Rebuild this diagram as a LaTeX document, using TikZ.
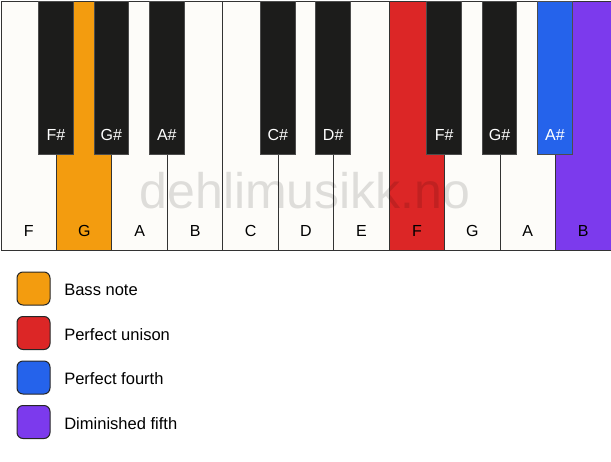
\documentclass[tikz,border=0pt]{standalone}
\usepackage{fontspec}
\setmainfont{Liberation Sans}

\definecolor{keywhite}{HTML}{FDFCF9}
\definecolor{keyblack}{HTML}{1C1C1B}
\definecolor{bassorange}{HTML}{F39C0F}
\definecolor{unisonred}{HTML}{DC2626}
\definecolor{fourthblue}{HTML}{2563EB}
\definecolor{fifthpurple}{HTML}{7C3AED}

\tikzset{
  whitekey/.style={draw=black!80, line width=0.75pt, anchor=north west,
    minimum width=41.66pt, minimum height=186.75pt, inner sep=0pt},
  blackkey/.style={draw=black!70, line width=0.75pt, anchor=north,
    minimum width=25.9pt, minimum height=114.75pt, inner sep=0pt},
  keylabel/.style={font=\fontsize{12}{14}\selectfont, inner sep=0pt},
  legendbox/.style={draw=black!85, line width=0.75pt, rounded corners=4.5pt,
    minimum size=24.75pt, inner sep=0pt},
  legendtext/.style={font=\fontsize{12.4}{14}\selectfont, anchor=west, inner sep=0pt},
}

\begin{document}
\begin{tikzpicture}[x=0.75pt,y=-0.75pt]
  \useasboundingbox (0,0) rectangle (611,461);

  % white keys
  \foreach \name/\col [count=\i from 0] in {F/keywhite, G/bassorange, A/keywhite, B/keywhite,
      C/keywhite, D/keywhite, E/keywhite, F/unisonred, G/keywhite, A/keywhite, B/fifthpurple}{
    \node[whitekey, fill=\col] (w\i) at ({\i*55.45+0.5}, 0.5) {};
    \node[keylabel] (wl\i) at ([yshift=14.5pt]w\i.south) {\name};
  }

  % watermark
  \node[font=\fontsize{37.5}{40}\selectfont, text=black, text opacity=0.12,
    anchor=base, inner sep=0pt] (mark) at (305, 208) {dehlimusikk.no};

  % black keys
  \foreach \pos/\name/\col in {1/F\#/keyblack, 2/G\#/keyblack, 3/A\#/keyblack,
      5/C\#/keyblack, 6/D\#/keyblack, 8/F\#/keyblack, 9/G\#/keyblack, 10/A\#/fourthblue}{
    \node[blackkey, fill=\col] (b\pos) at ({\pos*55.45+0.5}, 0.5) {};
    \node[keylabel, text=white] (bl\pos) at ([yshift=15pt]b\pos.south) {\name};
  }

  % legend
  \foreach \col/\txt [count=\j from 0] in {bassorange/Bass note, unisonred/Perfect unison,
      fourthblue/Perfect fourth, fifthpurple/Diminished fifth}{
    \node[legendbox, fill=\col] (lb\j) at (33.5, {288.5+\j*44.5}) {};
    \node[legendtext] (lt\j) at (64, {289.8+\j*44.5}) {\txt};
  }
\end{tikzpicture}
\end{document}
